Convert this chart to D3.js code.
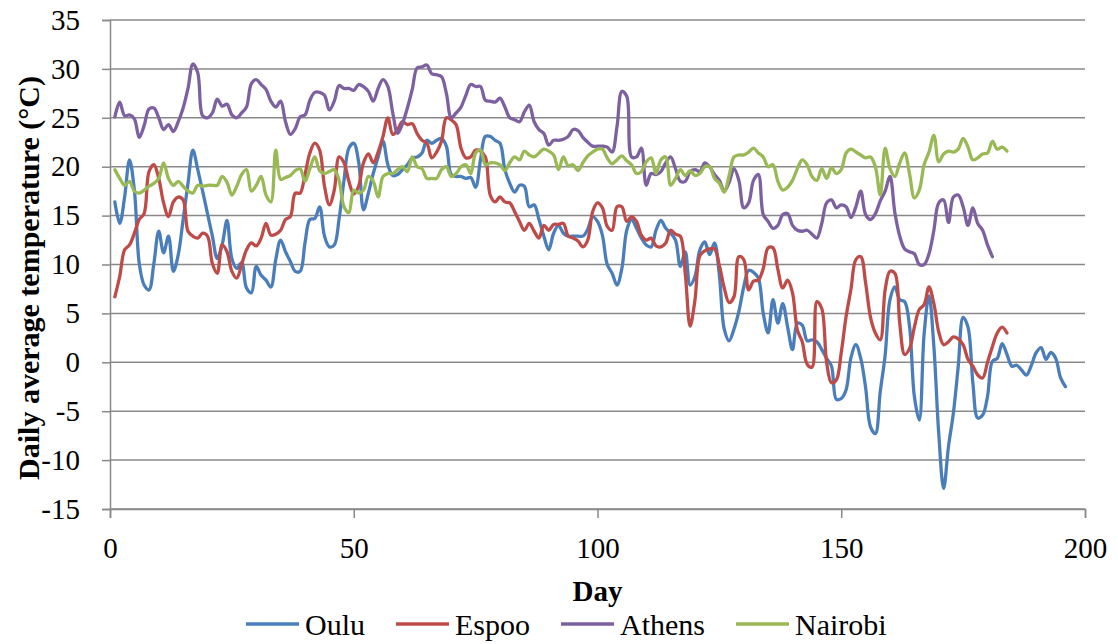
<!DOCTYPE html>
<html>
<head>
<meta charset="utf-8">
<script src="https://cdn.jsdelivr.net/npm/d3@7"></script>
<style>
  html, body { margin: 0; padding: 0; background: #fff; }
  svg { display: block; }
  svg text { font-family: 'Liberation Serif', 'Times New Roman', serif; fill: #000; }
</style>
</head>
<body>
<svg id="chart" width="1118" height="644"></svg>
<script>
// Daily average temperature (°C) by day number, starting at day 1
const oulu = [
  16.4, 14.2, 16.9, 20.7, 17.6, 10.1, 7.9, 7.4, 10.1, 13.4,
  11.2, 12.9, 9.3, 11.0, 14.6, 18.3, 21.7, 19.7, 17.5, 15.2,
  12.9, 10.6, 12.0, 14.5, 10.6, 9.6, 10.2, 7.6, 7.1, 9.8,
  8.9, 8.4, 7.7, 10.5, 12.5, 11.3, 10.3, 9.3, 9.3, 12.2,
  14.6, 14.7, 15.9, 12.9, 11.8, 12.0, 14.7, 18.6, 21.9, 22.4,
  20.5, 15.6, 17.3, 19.3, 21.0, 22.6, 20.2, 19.1, 19.2, 19.7,
  20.2, 20.9, 21.0, 21.4, 22.7, 22.4, 22.7, 22.9, 22.1, 19.2,
  19.0, 19.0, 18.8, 18.9, 17.9, 20.7, 23.1, 23.1, 22.7, 22.4,
  19.7, 18.3, 17.4, 18.1, 18.0, 15.9, 16.1, 14.6, 12.9, 11.5,
  13.2, 14.0, 13.2, 12.9, 12.9, 12.9, 12.9, 13.6, 14.9, 14.4,
  13.0, 10.0, 9.1, 7.9, 9.6, 13.5, 14.6, 13.7, 12.7, 12.0,
  11.8, 13.5, 14.5, 13.7, 13.2, 12.5, 9.8, 11.3, 7.9, 8.8,
  11.5, 12.3, 11.0, 12.2, 8.9, 3.4, 2.2, 3.4, 5.2, 7.7,
  9.4, 9.2, 8.6, 5.0, 3.0, 6.4, 4.0, 6.0, 3.6, 1.3,
  4.0, 3.8, 2.2, 2.3, 2.1, 1.3, 0.4, -0.4, -3.8, -3.7,
  -2.8, 0.5, 1.8, 0.4, -2.6, -6.6, -7.3, -3.0, 0.7, 6.4,
  7.7, 6.4, 6.2, 3.7, -3.5, -5.9, 2.9, 6.8, 1.6, -7.3,
  -12.9, -8.6, -5.2, -0.4, 4.6, 3.6, -2.1, -5.7, -5.4, -3.5,
  0.1, 0.4, 1.9, 0.8, -0.4, -0.3, -0.8, -1.3, -0.3, 1.0,
  1.5, 0.3, 1.0, 0.4, -1.6, -2.5
];
const espoo = [
  6.7, 8.8, 11.5, 12.0, 13.2, 14.6, 15.2, 19.5, 20.2, 18.8,
  16.3, 14.9, 16.4, 16.9, 16.6, 13.4, 12.9, 12.7, 13.2, 12.9,
  10.1, 9.1, 12.0, 11.3, 9.3, 8.6, 10.0, 11.5, 12.2, 11.9,
  12.7, 14.2, 13.0, 13.1, 13.5, 14.6, 14.9, 17.3, 17.3, 19.2,
  21.4, 22.4, 21.7, 18.0, 16.1, 17.6, 21.0, 20.4, 18.5, 17.2,
  18.0, 20.4, 21.3, 20.4, 21.5, 23.1, 25.0, 23.3, 23.8, 24.6,
  24.3, 24.4, 23.4, 22.7, 22.4, 20.9, 21.5, 22.6, 25.0, 24.8,
  24.3, 21.9, 20.9, 21.0, 21.7, 21.6, 21.0, 17.1, 16.4, 16.9,
  16.4, 16.3, 15.4, 14.4, 13.5, 14.2, 13.4, 12.7, 14.0, 13.5,
  14.1, 14.1, 14.2, 12.9, 12.7, 12.4, 11.8, 12.5, 15.4, 16.3,
  15.8, 13.9, 13.5, 15.9, 15.9, 14.4, 14.9, 14.4, 13.0, 12.5,
  12.7, 11.9, 11.8, 12.2, 13.5, 13.1, 12.9, 9.1, 3.7, 6.4,
  10.9, 11.4, 11.6, 11.6, 9.9, 7.6, 6.1, 6.7, 10.8, 10.5,
  7.4, 8.3, 8.4, 9.6, 11.7, 11.7, 9.5, 7.6, 8.4, 7.1,
  3.3, 2.1, -0.2, -0.5, 6.2, 5.5, 0.0, -2.1, -1.8, 1.0,
  4.7, 7.5, 10.5, 10.8, 8.1, 4.6, 3.0, 2.3, 7.4, 9.3,
  9.1, 4.0, 0.8, 1.4, 3.6, 5.4, 5.9, 7.7, 6.0, 3.1,
  1.8, 2.1, 2.6, 2.4, 1.8, 0.3, -0.4, -1.3, -1.6, 0.0,
  1.6, 3.0, 3.6, 3.0
];
const athens = [
  25.1, 26.6, 25.2, 25.3, 24.9, 23.0, 24.2, 25.9, 26.0, 25.0,
  23.8, 24.3, 23.6, 24.6, 26.0, 28.0, 30.5, 29.6, 25.2, 25.0,
  25.5, 26.9, 26.2, 26.4, 25.3, 25.0, 25.5, 26.1, 28.5, 28.9,
  28.4, 27.9, 26.7, 26.1, 26.7, 24.6, 23.3, 23.9, 25.1, 25.3,
  26.8, 27.6, 27.6, 27.3, 25.8, 26.7, 28.3, 28.0, 28.0, 27.8,
  28.4, 28.2, 27.7, 26.7, 28.0, 28.9, 28.2, 25.5, 23.4, 24.4,
  26.0, 27.9, 30.1, 30.2, 30.4, 29.5, 29.4, 29.2, 27.5, 25.0,
  25.5, 26.1, 27.3, 28.4, 28.2, 28.2, 26.8, 26.7, 26.6, 27.0,
  26.1, 25.0, 24.8, 24.6, 25.6, 26.3, 24.6, 23.8, 23.4, 22.2,
  22.7, 22.7, 22.8, 23.1, 23.8, 23.7, 23.0, 22.5, 22.1, 22.1,
  22.1, 22.0, 21.5, 24.1, 27.7, 27.2, 21.0, 21.0, 21.9, 18.1,
  19.3, 19.2, 19.5, 20.4, 21.0, 19.8, 18.5, 18.5, 19.5, 19.7,
  19.5, 20.4, 20.0, 19.2, 18.6, 17.5, 18.4, 19.8, 18.6, 15.8,
  16.3, 18.6, 19.2, 15.1, 14.4, 13.7, 14.0, 15.1, 15.2, 14.0,
  13.5, 13.4, 13.5, 13.1, 12.7, 14.2, 16.3, 16.6, 15.8, 16.1,
  15.9, 14.8, 15.9, 17.5, 15.1, 14.6, 15.2, 16.5, 17.5, 19.0,
  15.3, 12.9, 11.6, 11.3, 11.1, 10.0, 10.0, 11.1, 13.5, 16.3,
  16.6, 14.3, 16.9, 17.1, 15.9, 14.0, 15.8, 14.2, 13.5, 12.0,
  10.8
];
const nairobi = [
  19.7, 18.8, 18.1, 18.5, 17.5, 17.3, 17.6, 18.0, 18.3, 18.8,
  20.4, 18.8, 18.1, 18.5, 18.0, 17.5, 17.3, 18.1, 18.0, 18.1,
  18.1, 18.1, 19.0, 18.4, 17.1, 18.0, 19.2, 19.7, 17.5, 18.1,
  19.0, 17.1, 16.4, 21.7, 18.7, 18.9, 19.1, 19.6, 19.8, 18.5,
  19.8, 21.0, 19.6, 19.3, 19.5, 19.7, 18.6, 15.9, 15.3, 17.6,
  17.3, 17.6, 19.0, 18.5, 16.9, 19.0, 19.3, 19.3, 19.7, 20.0,
  19.5, 21.0, 20.0, 19.8, 18.8, 18.8, 18.8, 19.7, 20.0, 19.0,
  19.3, 20.0, 20.2, 19.3, 21.4, 21.7, 20.2, 20.4, 20.4, 20.2,
  19.6, 20.4, 21.0, 20.7, 21.6, 21.2, 21.0, 21.4, 21.8, 21.6,
  21.2, 19.7, 21.0, 20.1, 20.2, 19.6, 20.4, 21.1, 21.5, 21.8,
  21.8, 20.9, 20.3, 20.7, 21.1, 20.6, 20.2, 19.3, 19.5, 20.5,
  20.9, 19.3, 20.7, 21.0, 18.1, 18.8, 19.7, 19.1, 19.6, 19.1,
  19.3, 20.0, 20.0, 18.8, 18.3, 17.4, 19.1, 21.0, 21.2, 21.2,
  21.5, 21.9, 21.4, 21.0, 20.0, 20.2, 18.5, 17.6, 17.9, 18.6,
  19.8, 20.7, 20.2, 19.0, 18.6, 19.8, 18.8, 19.9, 19.3, 19.7,
  21.4, 21.8, 21.5, 21.2, 20.9, 21.0, 20.0, 17.1, 21.9, 19.8,
  19.0, 20.4, 21.4, 19.3, 16.8, 17.6, 20.2, 21.5, 23.2, 20.5,
  21.3, 21.6, 21.5, 21.8, 22.9, 22.0, 20.7, 20.9, 21.3, 21.4,
  22.6, 21.8, 22.0, 21.6
];

const seriesNames = ["Oulu", "Espoo", "Athens", "Nairobi"];
const seriesColors = ["#4a7ebb", "#be4b48", "#7d60a0", "#98b954"];
const seriesValues = [oulu, espoo, athens, nairobi];

const xTicks = [0, 50, 100, 150, 200];
const yTicks = [-15, -10, -5, 0, 5, 10, 15, 20, 25, 30, 35];

const xTitle = "Day";
const yTitle = "Daily average temperature (°C)";

const serif = "'Liberation Serif', 'Times New Roman', serif";
const svg = d3.select("#chart");
const plotLeft = 110, plotRight = 1085, plotTop = 20, plotBottom = 509;

const x = d3.scaleLinear().domain([0, 200]).range([plotLeft, plotRight]);
const y = d3.scaleLinear().domain([-15, 35]).range([plotBottom, plotTop]);

const gridColor = "#898989";
const plainNumber = d => String(d);

// horizontal gridlines
svg.append("g")
  .selectAll("line")
  .data(yTicks)
  .join("line")
  .attr("x1", plotLeft)
  .attr("x2", plotRight)
  .attr("y1", d => y(d))
  .attr("y2", d => y(d))
  .attr("stroke", gridColor)
  .attr("stroke-width", 1.5);

// vertical axis with tick labels
const yAxis = svg.append("g")
  .attr("transform", `translate(${plotLeft},0)`)
  .call(d3.axisLeft(y).tickValues(yTicks).tickSize(8).tickPadding(22).tickFormat(plainNumber));
yAxis.attr("font-family", null).attr("font-size", null);
yAxis.select(".domain").attr("stroke", gridColor).attr("stroke-width", 1.5);
yAxis.selectAll(".tick line").attr("stroke", gridColor).attr("stroke-width", 1.5);
yAxis.selectAll("text")
  .style("font-family", serif)
  .style("font-size", "29px")
  .style("fill", "#000");

// horizontal axis with tick labels
const xAxis = svg.append("g")
  .attr("transform", `translate(0,${plotBottom})`)
  .call(d3.axisBottom(x).tickValues(xTicks).tickSize(9).tickPadding(19).tickFormat(plainNumber));
xAxis.attr("font-family", null).attr("font-size", null);
xAxis.select(".domain").attr("stroke", gridColor).attr("stroke-width", 1.5);
xAxis.selectAll(".tick line").attr("stroke", gridColor).attr("stroke-width", 1.5);
xAxis.selectAll("text")
  .style("font-family", serif)
  .style("font-size", "29px")
  .style("fill", "#000");

// smoothed series lines
const line = d3.line()
  .x((d, i) => x(i + 1))
  .y(d => y(d))
  .curve(d3.curveCatmullRom.alpha(0.5));

svg.append("g")
  .selectAll("path")
  .data(seriesValues)
  .join("path")
  .attr("d", d => line(d))
  .attr("fill", "none")
  .attr("stroke", (d, i) => seriesColors[i])
  .attr("stroke-width", 3.3)
  .attr("stroke-linejoin", "round")
  .attr("stroke-linecap", "round");

// axis titles
svg.append("text")
  .attr("x", (plotLeft + plotRight) / 2)
  .attr("y", 601)
  .attr("text-anchor", "middle")
  .style("font-family", serif)
  .style("font-size", "29px")
  .style("font-weight", "bold")
  .text(xTitle);

svg.append("text")
  .attr("transform", "translate(39,278) rotate(-90)")
  .attr("text-anchor", "middle")
  .style("font-family", serif)
  .style("font-size", "30px")
  .style("font-weight", "bold")
  .text(yTitle);

// legend
const legend = svg.append("g");
let lx = 246;
seriesNames.forEach((name, i) => {
  legend.append("line")
    .attr("x1", lx).attr("x2", lx + 53)
    .attr("y1", 624).attr("y2", 624)
    .attr("stroke", seriesColors[i])
    .attr("stroke-width", 3.3);
  const t = legend.append("text")
    .attr("x", lx + 59)
    .attr("y", 635)
    .style("font-family", serif)
    .style("font-size", "30px")
    .text(name);
  lx += 59 + t.node().getComputedTextLength() + 31;
});
</script>
</body>
</html>
